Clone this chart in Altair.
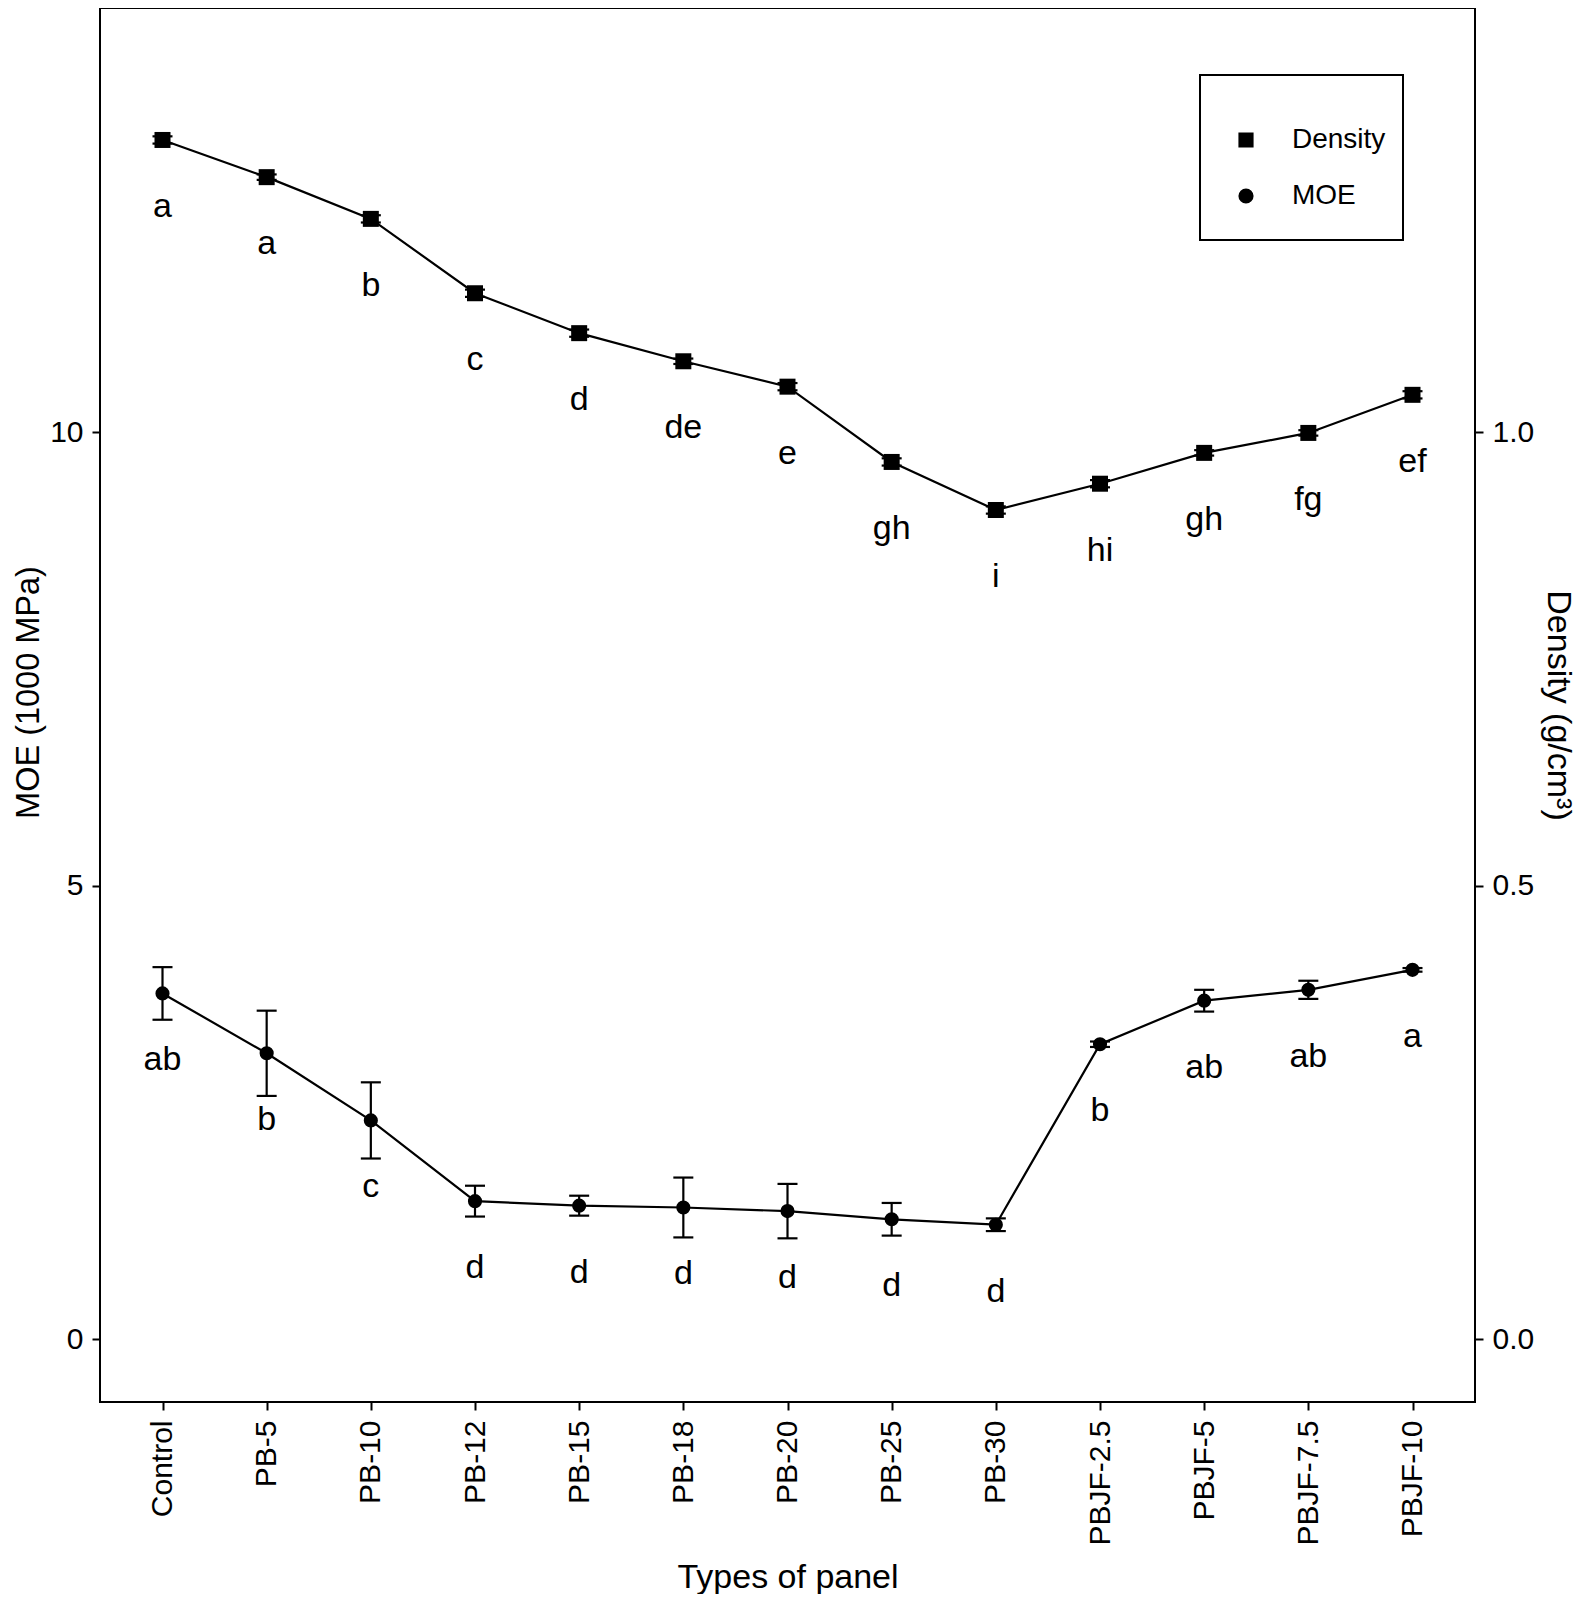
import altair as alt
import pandas as pd

FONT = "Liberation Sans"

panels = ["Control", "PB-5", "PB-10", "PB-12", "PB-15", "PB-18", "PB-20",
          "PB-25", "PB-30", "PBJF-2.5", "PBJF-5", "PBJF-7.5", "PBJF-10"]
moe_mean = [3.81, 3.15, 2.41, 1.52, 1.47, 1.45, 1.41, 1.32, 1.26, 3.25, 3.73, 3.85, 4.07]
moe_sd = [0.29, 0.47, 0.42, 0.17, 0.11, 0.33, 0.30, 0.18, 0.07, 0.03, 0.12, 0.10, 0.02]
moe_letters = ["ab", "b", "c", "d", "d", "d", "d", "d", "d", "b", "ab", "ab", "a"]
dens_mean = [1.322, 1.281, 1.235, 1.153, 1.109, 1.078, 1.050, 0.967, 0.914, 0.943, 0.977, 0.999, 1.041]
dens_sd = [0.004, 0.003, 0.004, 0.004, 0.004, 0.003, 0.004, 0.004, 0.004, 0.004, 0.003, 0.003, 0.004]
dens_letters = ["a", "a", "b", "c", "d", "de", "e", "gh", "i", "hi", "gh", "fg", "ef"]

moe_df = pd.DataFrame({"panel": panels, "value": moe_mean, "sd": moe_sd,
                       "letter": moe_letters, "series": "MOE"})
dens_df = pd.DataFrame({"panel": panels, "value": dens_mean, "sd": dens_sd,
                        "letter": dens_letters, "series": "Density"})

x_enc = alt.X("panel:N", sort=panels,
              scale=alt.Scale(type="point", padding=0.6),
              axis=alt.Axis(title="Types of panel", labelAngle=-90, labelFontSize=30,
                            labelPadding=10, titleFontSize=34, titleX=687.5, titleY=185,
                            titleBaseline="alphabetic", titleAlign="center"))

shape_enc = alt.Shape("series:N",
                      scale=alt.Scale(domain=["Density", "MOE"], range=["square", "circle"]),
                      legend=alt.Legend(orient="none", legendX=1100, legendY=67,
                                        title=" ", titleFontSize=10, titlePadding=11,
                                        padding=17, symbolOffset=15, labelOffset=32,
                                        clipHeight=54, rowPadding=2,
                                        labelFontSize=28, symbolSize=230,
                                        symbolFillColor="black", symbolStrokeColor="black",
                                        strokeColor="black", labelColor="black",
                                        labelFont=FONT))


def series_layers(df, scale, axis, sq):
    base = alt.Chart(df)
    y_val = alt.Y("value:Q", scale=scale, axis=axis)
    line = base.mark_line(color="black", strokeWidth=2.2).encode(x=x_enc, y=y_val)
    errs = base.transform_calculate(lo="datum.value - datum.sd", hi="datum.value + datum.sd")
    rule = errs.mark_rule(color="black", strokeWidth=2.2).encode(
        x=x_enc, y=alt.Y("lo:Q", scale=scale, axis=axis), y2="hi:Q")
    caps = errs.transform_fold(["lo", "hi"], as_=["k", "cap"]).mark_tick(
        orient="horizontal", size=20, thickness=2.2, color="black", opacity=1).encode(
        x=x_enc, y=alt.Y("cap:Q", scale=scale, axis=axis))
    pts = base.mark_point(filled=True, opacity=1, color="black",
                          size=256 if sq else 200).encode(x=x_enc, y=y_val, shape=shape_enc)
    txt = base.mark_text(dy=77, baseline="alphabetic", fontSize=34, color="black",
                         font=FONT).encode(x=x_enc, y=y_val, text="letter:N")
    return alt.layer(line, rule, caps, pts, txt)


moe_scale = alt.Scale(domain=[-0.6946, 14.675], nice=False, zero=False)
moe_axis = alt.Axis(orient="left", values=[0, 5, 10], title="MOE (1000 MPa)",
                    labelFontSize=30, labelPadding=9, titleFontSize=32.5,
                    titleX=-72, titleY=684, titleAngle=-90, titleBaseline="middle",
                    titleAlign="center")
dens_scale = alt.Scale(domain=[-0.06946, 1.4675], nice=False, zero=False)
dens_axis = alt.Axis(orient="right", values=[0, 0.5, 1.0], format=".1f",
                     title="Density (g/cm³)", labelFontSize=30, labelPadding=9,
                     titleFontSize=34, titleX=82, titleY=697, titleAngle=90,
                     titleBaseline="middle", titleAlign="center")

moe_layer = series_layers(moe_df, moe_scale, moe_axis, False)
dens_layer = series_layers(dens_df, dens_scale, dens_axis, True)

chart = alt.layer(moe_layer, dens_layer).resolve_scale(y="independent").properties(
    width=1375, height=1394,
    autosize=alt.AutoSizeParams(type="none"),
    padding={"left": 92, "top": 0, "right": 112, "bottom": 192},
).configure(font=FONT).configure_view(
    stroke="black", strokeWidth=2
).configure_axis(
    domain=False, grid=False, tickColor="black", tickWidth=2, tickSize=8,
    labelColor="black", titleColor="black", labelFont=FONT, titleFont=FONT,
    titleFontWeight="normal"
).configure_legend(strokeWidth=2)

chart.save("out.html", embed_options={"renderer": "svg", "actions": False})
